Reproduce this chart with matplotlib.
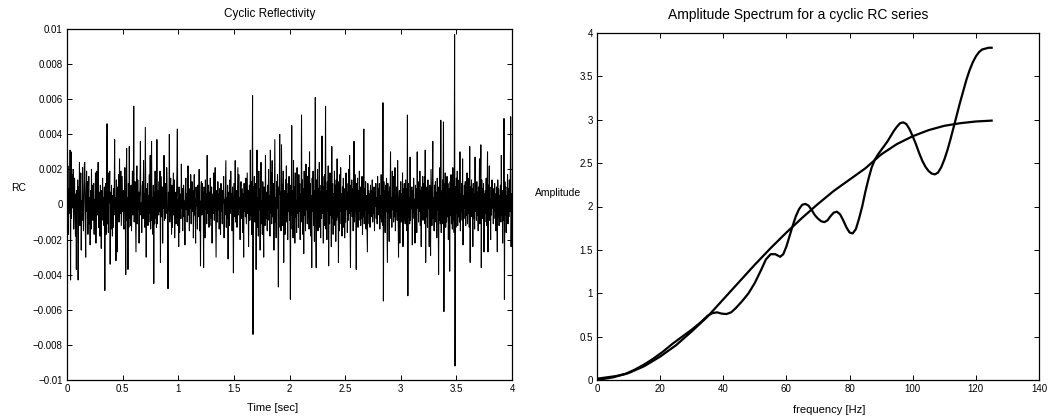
import matplotlib
matplotlib.use('Agg')
import matplotlib.pyplot as plt
import numpy as np

plt.rcParams['font.family'] = ['Liberation Sans', 'DejaVu Sans']

# ---------------- data ----------------
dt = 0.004  # sample interval [s]
# reflection coefficients, in units of 1e-4
rc_x1e4 = [
    4, -6, 22, -17, 9, 2, -5, 31, -43, 30, -8, 3, 17, -2, 20, -14, 5, 15, -4, -18,
    6, -37, 8, -3, 14, -43, 10, -1, 24, -12, 7, 18, -26, 2, -9, 21, -3, -15, 6, 23,
    24, -8, -30, 5, 19, -4, 13, -17, 2, 16, -11, 4, -23, 8, -14, 20, -5, 11, -9, 6,
    12, -17, 3, -10, 18, -22, 5, 19, -2, -6, 24, -13, 4, 7, -18, 11, 2, -25, 8, -3,
    15, -9, 4, -12, 10, -49, 6, 12, -17, 3, 46, -11, 5, -16, 18, 1, 19, -34, 7, -14,
    11, 2, -18, 5, -13, 9, -3, 37, -6, 4, -32, 14, 3, -27, 10, -2, 17, -10, 26, 1,
    -5, 19, -12, 3, 16, -4, 8, -11, -14, 7, 21, -6, -40, 10, 32, -9, 4, -37, 12, -13,
    33, -8, 6, -12, 11, -15, 4, 19, -6, 3, 56, -10, 5, 13, -7, -27, 8, 22, -11, 14,
    -3, 7, -22, 4, 9, 36, -6, 1, -16, 10, 13, -8, 25, -4, 6, -13, 44, 2, -30, 9,
    -6, 12, -12, 5, -10, 17, -5, 28, -14, 3, 36, -9, 4, -17, 11, -45, 7, -11, 19, -8,
    5, -13, 37, -11, 8, 2, -6, 13, -4, 19, -33, 16, -7, 3, 10, -22, 6, -2, 28, -9,
    4, -8, 12, -5, 21, 9, -14, -48, 7, -3, 40, -10, 6, 15, -2, -17, 11, -13, 3, 18,
    -6, 14, -19, 2, 7, -11, 5, 18, 43, -12, 3, -24, 10, -16, 6, 1, -8, 23, -2, 9,
    -15, 4, 11, -7, 2, -23, 8, 15, -3, 6, -10, 1, 22, -6, 4, -15, 9, -2, 17, -11,
    5, 13, -4, 8, -19, 2, 17, -6, 3, -22, 10, -1, 6, -14, 11, 4, -7, 20, -15, 2,
    -35, 9, 13, -6, 12, -4, 7, -36, 10, 2, -19, 14, -3, 6, -11, 28, -5, 8, 11, -13,
    7, -12, 15, -8, 4, 10, -22, 3, 6, -5, 18, -9, 2, 21, -6, -30, 8, 4, -10, 13,
    -3, 6, -14, 9, 2, -17, 12, -4, 5, -11, 8, 1, 16, -19, 3, -6, 10, 25, -13, 4,
    -8, 11, -31, 7, 3, -12, 14, -5, 19, -2, 6, -15, 10, -4, -39, 12, 2, -7, 25, -10,
    5, 8, -13, 3, 21, -6, 17, -2, 4, -20, 7, 13, -8, 1, 9, -16, 6, -30, 12, -4,
    9, -7, 15, -11, 3, 18, -5, 8, -24, 2, 11, -9, 31, -6, 13, -17, 7, 62, -74, 10,
    -4, 16, -10, 5, 12, -37, 8, 31, -13, 4, -18, 19, -3, 9, -26, 6, 24, -11, 2, -17,
    13, -6, -30, 10, 4, -12, 28, -8, 7, 2, -15, 11, -3, 20, -9, 5, -18, 31, -5, 18,
    -11, 25, -7, 3, 12, -26, 9, 37, -10, 4, -19, 13, -2, 17, -8, -47, 10, 6, 40, -13,
    7, -15, 34, -6, 11, -12, 19, -33, 8, 3, -17, 14, -5, 22, -10, 6, -20, 12, -4, 16,
    -9, 4, -54, 11, -6, 45, -14, 8, -19, 25, -3, 10, -22, 18, -7, 2, -16, 21, -5, 9,
    -13, 17, -4, 12, -20, 6, -10, 51, -8, 14, -17, 9, -28, 19, -6, 11, -15, 23, -3, 8,
    -11, 16, -7, 21, -14, 30, -9, 12, -18, 5, -36, 15, -4, 19, -12, 8, -21, 13, 61, -10,
    -36, 14, -6, 20, -15, 9, -3, 24, -13, 7, -19, 11, -8, 39, -5, 16, -22, 10, -12, 17,
    -9, 56, -14, 8, -20, 13, -4, 22, -35, 10, -11, 18, -6, 15, -24, 33, -8, 12, -17, 6,
    -12, 19, -5, 11, -21, 14, -9, 26, -7, 13, -33, 8, -15, 17, -4, 21, -11, 6, -18, 10,
    -6, 15, -13, 9, -19, 4, -10, 18, -3, 12, -16, 7, -9, 20, -5, 28, -8, -36, 11, -4,
    14, -7, 9, -15, 5, 36, -10, 3, 17, -6, -37, 12, -2, 15, -13, 8, -9, 19, -4, 10,
    -12, 6, -8, 16, -17, 4, -7, 43, -11, 9, -3, 13, -14, 5, -10, -27, 12, -5, 8, -11,
    6, -13, 11, -2, 8, -7, 14, -10, 3, -5, 10, -15, 7, -1, 12, -8, 4, -11, 16, -6,
    9, -3, 12, -14, 5, -8, 17, -10, 2, -12, 58, -55, 13, -6, 8, -16, 11, -4, 15, -9,
    -33, 12, -5, 7, -21, 10, -2, 30, -8, 4, -13, 19, -3, 16, -10, 6, -7, 21, -15, 5,
    -4, 10, -9, 25, -6, -30, 2, 8, -22, 3, 13, -10, 6, -7, 18, -24, 9, -3, 12, -8,
    -11, 14, -5, 9, -15, 51, -52, 12, -7, 4, -11, 27, -9, 6, -2, 10, -23, 8, -5, 15,
    -8, 3, -22, 11, -6, 9, -16, 30, -2, 13, -10, 7, -4, 19, -12, 8, -24, 10, -3, 16,
    -9, 12, -5, 16, -11, 31, -33, 10, -7, 4, -13, 14, -2, 8, -24, 11, -6, -29, 20, 5,
    -12, 9, 36, -8, 4, -15, 11, -5, 13, -10, 7, -19, 15, -3, 10, -40, 6, -9, 21, -11,
    48, -16, 8, -11, 14, -6, 47, -61, 12, -8, 18, -13, 5, -10, 16, -7, 12, -20, 9, -4,
    -38, 13, -6, 17, -11, 7, -14, 21, -9, 12, -16, 97, -92, 10, -13, 15, -5, 19, -12, 8,
    -7, 14, -10, 30, -15, 6, -4, 12, -9, 26, -23, 5, -8, 11, -2, 13, -12, 7, -6, 18,
    -11, 8, -5, 15, -13, 33, -33, 10, -7, 14, -3, 9, -24, 12, -8, 6, -14, 27, -4, 11,
    -9, 13, -6, 7, -15, 10, -2, 26, -11, 5, 34, -36, 14, -8, 9, -4, 12, -27, 6, -10,
    8, -5, 15, -12, 4, 30, -27, 11, -7, 22, -9, 3, -20, 10, -6, 14, -2, 7, -11, 9,
    -4, 12, -8, 6, -15, 10, -3, -27, 14, -7, 9, -12, 5, -1, 11, -10, 28, -6, 8, -22,
    7, -9, 49, -54, 13, -6, 10, -16, 5, -3, 17, -11, 9, -7, 14, -4, 8, 50, -24, 6,
]

# smooth (wavelet) amplitude spectrum
freq_smooth = [0, 5, 10, 15, 20, 25, 30, 35, 40, 45, 50, 55, 60, 65, 70, 75, 80,
               85, 90, 95, 100, 105, 110, 115, 120, 125]
amp_smooth = [0.0, 0.03, 0.08, 0.16, 0.27, 0.40, 0.56, 0.73, 0.93, 1.13, 1.33, 1.52,
              1.70, 1.87, 2.03, 2.18, 2.31, 2.44, 2.60, 2.72, 2.81, 2.88, 2.93, 2.96,
              2.98, 2.99]

# amplitude spectrum of the cyclic RC series
freq_rc = [0, 3, 6, 9, 12, 15, 18, 21, 24, 27, 30, 33, 35, 36.5, 38, 39.5, 41, 42.5,
           44, 46, 48, 50, 52, 53.5, 55, 56.5, 58, 59, 60, 61, 62, 63, 64, 65, 66, 67,
           68, 69, 70, 71, 72, 73, 74, 75, 76, 77, 78, 79, 80, 81, 82, 83, 84, 85, 86,
           87, 88, 89, 90, 91, 92, 93, 94, 95, 96, 97, 98, 99, 100, 101, 102, 103, 104,
           105, 106, 107, 108, 109, 110, 111, 112, 113, 114, 115, 116, 117, 118, 119,
           120, 121, 122, 123, 124, 125]
amp_rc = [0.015, 0.03, 0.045, 0.07, 0.12, 0.18, 0.25, 0.33, 0.42, 0.50, 0.58, 0.67,
          0.74, 0.77, 0.78, 0.765, 0.76, 0.78, 0.83, 0.91, 1.0, 1.12, 1.27, 1.39, 1.45,
          1.45, 1.42, 1.45, 1.54, 1.66, 1.78, 1.89, 1.97, 2.02, 2.03, 2.01, 1.96, 1.90,
          1.86, 1.83, 1.82, 1.84, 1.89, 1.93, 1.94, 1.91, 1.84, 1.76, 1.70, 1.69, 1.74,
          1.86, 2.0, 2.17, 2.32, 2.45, 2.54, 2.60, 2.65, 2.70, 2.75, 2.81, 2.87, 2.92,
          2.96, 2.97, 2.95, 2.89, 2.81, 2.72, 2.62, 2.53, 2.46, 2.41, 2.38, 2.37, 2.39,
          2.45, 2.54, 2.65, 2.78, 2.92, 3.06, 3.20, 3.33, 3.46, 3.57, 3.66, 3.73, 3.78,
          3.81, 3.82, 3.83, 3.83]

rc_yticks = [-0.01, -0.008, -0.006, -0.004, -0.002, 0, 0.002, 0.004, 0.006, 0.008, 0.01]
rc_yticklabels = ['\u22120.01', '\u22120.008', '\u22120.006', '\u22120.004', '\u22120.002',
                  '0', '0.002', '0.004', '0.006', '0.008', '0.01']
rc_xticks = [0, 0.5, 1, 1.5, 2, 2.5, 3, 3.5, 4]
rc_xticklabels = ['0', '0.5', '1', '1.5', '2', '2.5', '3', '3.5', '4']
sp_xticks = [0, 20, 40, 60, 80, 100, 120, 140]
sp_xticklabels = ['0', '20', '40', '60', '80', '100', '120', '140']
sp_yticks = [0, 0.5, 1, 1.5, 2, 2.5, 3, 3.5, 4]
sp_yticklabels = ['0', '0.5', '1', '1.5', '2', '2.5', '3', '3.5', '4']

# ---------------- figure ----------------
W, H = 1049, 420
fig = plt.figure(figsize=(W / 100, H / 100), dpi=100)


def px_axes(x0, y0, x1, y1):
    return fig.add_axes([x0 / W, 1 - y1 / H, (x1 - x0) / W, (y1 - y0) / H])


def style(ax):
    ax.tick_params(direction='in', length=3.5, width=0.7, top=True, right=True,
                   labelsize=7, pad=3, colors='black')
    for s in ax.spines.values():
        s.set_linewidth(0.9)
        s.set_color('black')


ax1 = px_axes(67, 29, 512, 380)
t = np.arange(len(rc_x1e4)) * dt
rc = np.array(rc_x1e4) * 1e-4
ax1.plot(t, rc, color='black', lw=0.75)
ax1.set_xlim(0, 4)
ax1.set_ylim(-0.01, 0.01)
ax1.set_xticks(rc_xticks)
ax1.set_xticklabels(rc_xticklabels)
ax1.set_yticks(rc_yticks)
ax1.set_yticklabels(rc_yticklabels)
style(ax1)

ax2 = px_axes(597, 33, 1039, 380)
ax2.plot(freq_smooth, amp_smooth, color='black', lw=1.6)
ax2.plot(freq_rc, amp_rc, color='black', lw=1.6)
ax2.set_xlim(0, 140)
ax2.set_ylim(0, 4)
ax2.set_xticks(sp_xticks)
ax2.set_xticklabels(sp_xticklabels)
ax2.set_yticks(sp_yticks)
ax2.set_yticklabels(sp_yticklabels)
style(ax2)


def ftext(x, y, s, size, ha='center'):
    fig.text(x / W, 1 - y / H, s, ha=ha, va='center', fontsize=size, color='black')


ftext(270, 14, 'Cyclic Reflectivity', 8.5)
ftext(798, 15, 'Amplitude Spectrum for a cyclic RC series', 10)
ftext(273, 408, 'Time [sec]', 8)
ftext(829, 410, 'frequency [Hz]', 8)
ftext(26, 188, 'RC', 7.5, ha='right')
ftext(581, 193, 'Amplitude', 7.5, ha='right')

fig.savefig('out.png', dpi=100)
